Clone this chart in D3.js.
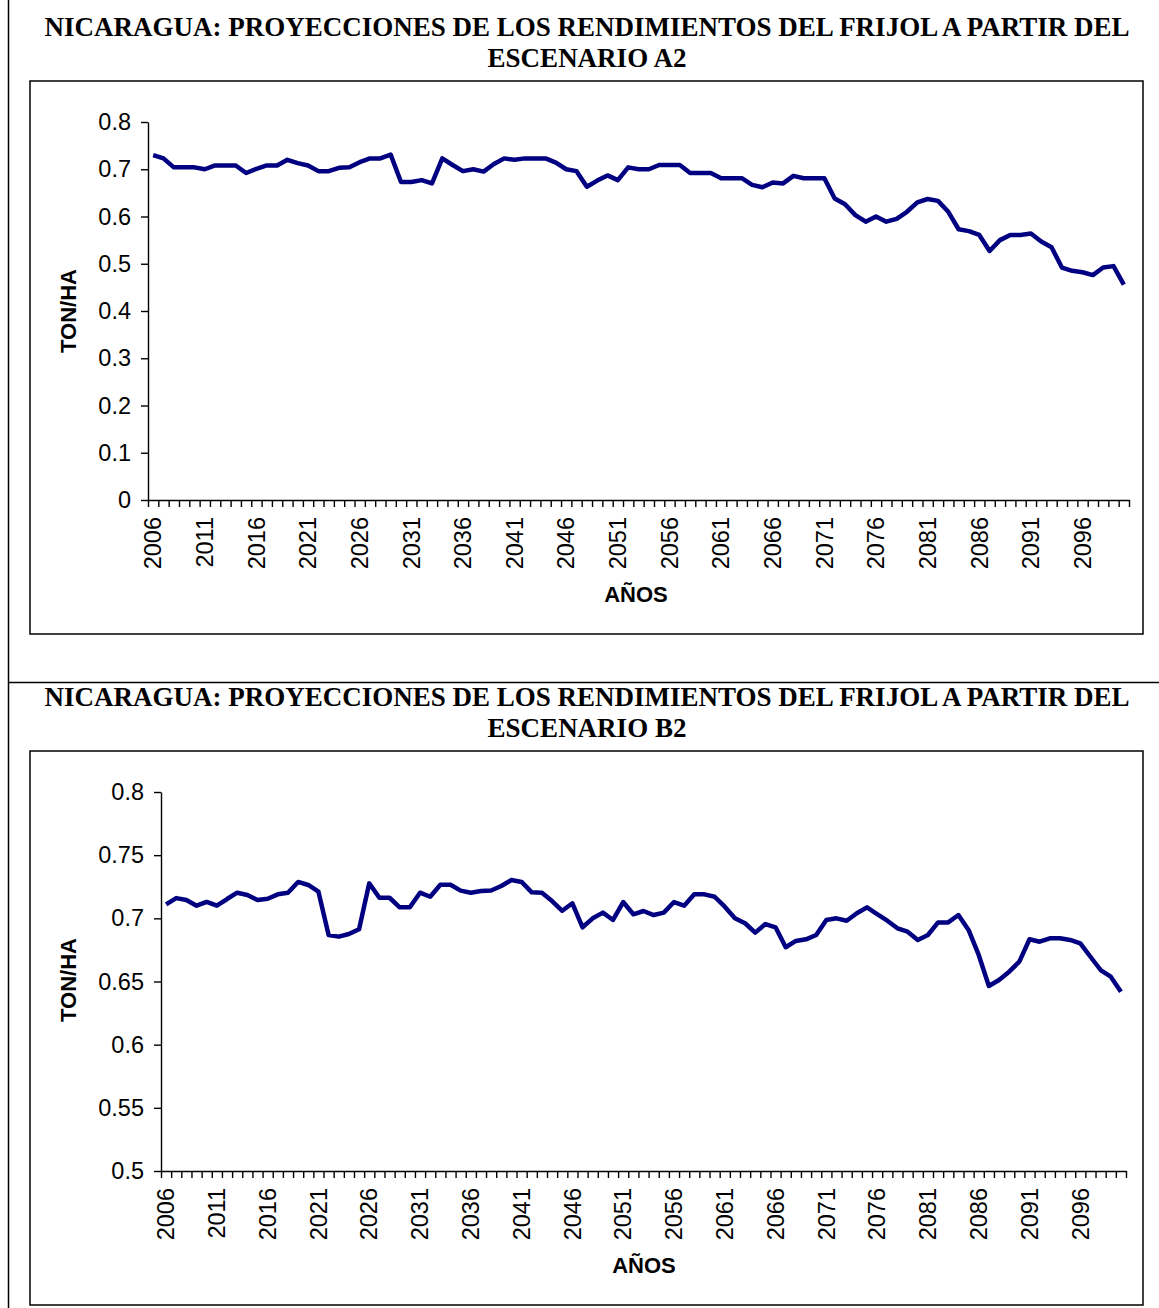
<!DOCTYPE html>
<html>
<head>
<meta charset="utf-8">
<script src="https://cdn.jsdelivr.net/npm/d3@7"></script>
<style>
  body { margin: 0; background: #fff; }
  svg { display: block; }
  .tick text { font-family: "Liberation Sans", Arial, sans-serif; font-size: 23.5px; fill: #000; }
  .axis path, .axis line { stroke: #000; stroke-width: 1.4px; }
</style>
</head>
<body>
<div id="chart-area"></div>
<script>
// years 2006 - 2100
var years = d3.range(2006, 2101);
var yearLabels = d3.range(2006, 2100, 5);

// scenario A2 (ton/ha)
var valuesA2 = [
  0.730, 0.723, 0.704, 0.704, 0.704, 0.700, 0.708, 0.708, 0.708, 0.692,
  0.701, 0.708, 0.708, 0.720, 0.713, 0.708, 0.696, 0.696, 0.703, 0.704,
  0.715, 0.723, 0.723, 0.731, 0.673, 0.673, 0.677, 0.670, 0.723, 0.709,
  0.696, 0.700, 0.695, 0.711, 0.723, 0.720, 0.723, 0.723, 0.723, 0.714,
  0.700, 0.696, 0.663, 0.676, 0.687, 0.677, 0.704, 0.700, 0.700, 0.709,
  0.709, 0.709, 0.692, 0.692, 0.692, 0.681, 0.681, 0.681, 0.667, 0.662,
  0.672, 0.670, 0.686, 0.681, 0.681, 0.681, 0.638, 0.626, 0.603, 0.589,
  0.600, 0.589, 0.595, 0.610, 0.630, 0.637, 0.633, 0.610, 0.573, 0.569,
  0.561, 0.527, 0.550, 0.561, 0.561, 0.564, 0.547, 0.535, 0.492, 0.485,
  0.482, 0.476, 0.492, 0.495, 0.456
];

// scenario B2 (ton/ha)
var valuesB2 = [
  0.711, 0.716, 0.7145, 0.710, 0.713, 0.710, 0.7153, 0.7203, 0.7185, 0.7145,
  0.7155, 0.719, 0.7203, 0.7288, 0.7264, 0.7211, 0.6868, 0.6855, 0.6876, 0.6913,
  0.7277, 0.7163, 0.7163, 0.7087, 0.7087, 0.7203, 0.7171, 0.7266, 0.7266, 0.7219,
  0.7203, 0.7216, 0.722, 0.7256, 0.7303, 0.7288, 0.7206, 0.7203, 0.7137, 0.706,
  0.7119, 0.6929, 0.700, 0.7045, 0.6987, 0.7129, 0.7032, 0.7058, 0.7026, 0.7045,
  0.7129, 0.710, 0.719, 0.719, 0.7171, 0.7092, 0.700, 0.6961, 0.6887, 0.6955,
  0.6929, 0.6771, 0.6821, 0.6834, 0.6868, 0.6987, 0.700, 0.6981, 0.704, 0.7087,
  0.7034, 0.6981, 0.6921, 0.6894, 0.6829, 0.6868, 0.6968, 0.6968, 0.7026, 0.6908,
  0.671, 0.6464, 0.6512, 0.6578, 0.6657, 0.6834, 0.6815, 0.6842, 0.6842, 0.6829,
  0.6802, 0.6696, 0.6591, 0.6538, 0.6419
];

var ticksA2 = [0, 0.1, 0.2, 0.3, 0.4, 0.5, 0.6, 0.7, 0.8];
var ticksB2 = [0.5, 0.55, 0.6, 0.65, 0.7, 0.75, 0.8];

var titleLine1 = "NICARAGUA: PROYECCIONES DE LOS RENDIMIENTOS DEL FRIJOL A PARTIR DEL";

var W = 1159, H = 1308;

var svg = d3.select("#chart-area")
  .append("svg")
    .attr("width", W)
    .attr("height", H);

// outer frame
svg.append("line")
  .attr("x1", 8.5).attr("x2", 8.5).attr("y1", 0).attr("y2", H)
  .attr("stroke", "#000").attr("stroke-width", 1.5);
svg.append("line")
  .attr("x1", 8).attr("x2", W).attr("y1", 682.5).attr("y2", 682.5)
  .attr("stroke", "#000").attr("stroke-width", 1.5);

function drawChart(cfg) {
  var g = svg.append("g");

  // title
  g.append("text")
    .attr("x", 587).attr("y", cfg.top + 36)
    .attr("text-anchor", "middle")
    .attr("font-family", "'Liberation Serif', 'Times New Roman', serif")
    .attr("font-weight", "bold").attr("font-size", "27px")
    .text(titleLine1);
  g.append("text")
    .attr("x", 587).attr("y", cfg.top + 67)
    .attr("text-anchor", "middle")
    .attr("font-family", "'Liberation Serif', 'Times New Roman', serif")
    .attr("font-weight", "bold").attr("font-size", "27px")
    .text(cfg.title2);

  // chart box
  g.append("rect")
    .attr("x", 30).attr("y", cfg.boxTop)
    .attr("width", 1113).attr("height", cfg.boxH)
    .attr("fill", "none").attr("stroke", "#000").attr("stroke-width", 1.5);

  var x = d3.scaleBand()
    .domain(years)
    .range([cfg.left, cfg.right]);

  var xEdge = d3.scaleLinear()
    .domain([0, years.length])
    .range([cfg.left, cfg.right]);

  var y = d3.scaleLinear()
    .domain(cfg.domain)
    .range([cfg.bottom, cfg.plotTop]);

  // x axis: tick marks between categories
  g.append("g")
    .attr("class", "axis")
    .attr("transform", "translate(0," + cfg.bottom + ")")
    .call(d3.axisBottom(xEdge).tickValues(d3.range(years.length + 1)).tickSize(7).tickSizeOuter(0).tickFormat(""));

  // x labels centred on categories
  var xl = g.append("g")
    .attr("transform", "translate(0," + cfg.bottom + ")")
    .call(d3.axisBottom(x).tickValues(yearLabels).tickSize(0));
  xl.select(".domain").remove();
  xl.selectAll(".tick text")
    .attr("transform", "rotate(-90)")
    .attr("text-anchor", "end")
    .attr("x", -17)
    .attr("y", 0)
    .attr("dy", "0.35em");

  // y axis
  g.append("g")
    .attr("class", "axis")
    .attr("transform", "translate(" + cfg.left + ",0)")
    .call(d3.axisLeft(y).tickValues(cfg.ticks).tickSize(7).tickSizeOuter(0).tickPadding(10)
      .tickFormat(function(d){ return String(+d.toFixed(2)); }));

  // axis titles
  g.append("text")
    .attr("transform", "translate(76," + cfg.yLabelY + ") rotate(-90)")
    .attr("text-anchor", "middle")
    .attr("font-family", "'Liberation Sans', Arial, sans-serif")
    .attr("font-weight", "bold").attr("font-size", "22px")
    .text("TON/HA");
  g.append("text")
    .attr("x", cfg.xLabelX).attr("y", cfg.xLabelY)
    .attr("text-anchor", "middle")
    .attr("font-family", "'Liberation Sans', Arial, sans-serif")
    .attr("font-weight", "bold").attr("font-size", "22px")
    .text("AÑOS");

  var line = d3.line()
    .x(function(d, i){ return x(years[i]) + x.bandwidth() / 2; })
    .y(function(d){ return y(d); });

  g.append("path")
    .datum(cfg.values)
    .attr("fill", "none")
    .attr("stroke", "#000080")
    .attr("stroke-width", 4.5)
    .attr("stroke-linejoin", "round")
    .attr("d", line);
}

drawChart({
  top: 0, title2: "ESCENARIO A2",
  boxTop: 81, boxH: 553,
  left: 148, right: 1129, bottom: 500, plotTop: 122,
  domain: [0, 0.8], ticks: ticksA2, values: valuesA2,
  yLabelY: 311, xLabelX: 636, xLabelY: 602
});

drawChart({
  top: 670, title2: "ESCENARIO B2",
  boxTop: 751, boxH: 554,
  left: 161, right: 1126, bottom: 1171, plotTop: 792,
  domain: [0.5, 0.8], ticks: ticksB2, values: valuesB2,
  yLabelY: 980, xLabelX: 644, xLabelY: 1273
});
</script>
</body>
</html>
